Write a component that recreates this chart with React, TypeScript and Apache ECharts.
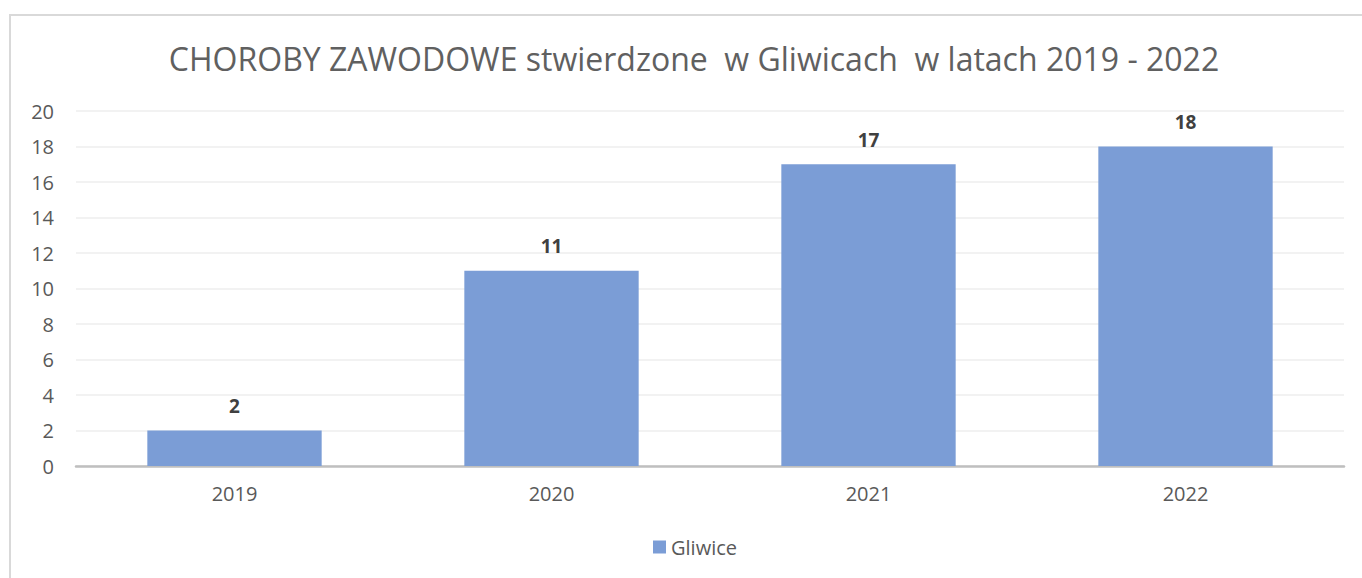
import React, { useEffect, useRef } from "react";
import * as echarts from "echarts";

const categories = ["2019", "2020", "2021", "2022"];
const gliwiceValues = [2, 11, 17, 18];
const seriesName = "Gliwice";
const titleText = "CHOROBY ZAWODOWE stwierdzone  w Gliwicach  w latach 2019 - 2022";

export default function App() {
  const ref = useRef<HTMLDivElement>(null);
  useEffect(() => {
    if (!ref.current) return;
    const chart = echarts.init(ref.current, null, { renderer: "svg" });
    const font = "'Open Sans', sans-serif";
    chart.setOption({
      animation: false,
      backgroundColor: "#ffffff",
      textStyle: { fontFamily: font },
      graphic: [
        {
          type: "rect",
          shape: { x: 10, y: 15, width: 1400, height: 620 },
          style: { fill: "none", stroke: "#d9d9d9", lineWidth: 2 },
          silent: true,
        },
      ],
      title: {
        text: titleText,
        left: 689,
        textAlign: "center",
        top: 37,
        textStyle: { fontFamily: font, fontSize: 32, fontWeight: "normal", color: "#606060" },
      },
      legend: {
        data: [seriesName],
        left: 648,
        top: 532,
        itemWidth: 13,
        itemHeight: 13,
        icon: "rect",
        itemGap: 6,
        textStyle: { fontFamily: font, fontSize: 20, color: "#595959" },
      },
      grid: { left: 76, right: 18, top: 111, bottom: 112, containLabel: false },
      xAxis: {
        type: "category",
        data: categories,
        axisLine: { lineStyle: { color: "#bfbfbf", width: 2.5 } },
        axisTick: { show: false },
        axisLabel: { fontFamily: font, fontSize: 20, color: "#595959", margin: 17 },
      },
      yAxis: {
        type: "value",
        min: 0,
        max: 20,
        interval: 2,
        axisLine: { show: false },
        axisTick: { show: false },
        splitLine: { lineStyle: { color: "#eeeeee", width: 1.5 } },
        axisLabel: { fontFamily: font, fontSize: 20, color: "#595959", margin: 22 },
      },
      series: [
        {
          name: seriesName,
          type: "bar",
          data: gliwiceValues,
          barWidth: "55%",
          itemStyle: { color: "#7b9dd6" },
          label: {
            show: true,
            position: "top",
            distance: 15,
            fontFamily: font,
            fontSize: 19,
            fontWeight: "bold",
            color: "#404040",
          },
        },
      ],
    });
    return () => chart.dispose();
  }, []);
  return (
    <div
      ref={ref}
      style={{ position: "absolute", left: 0, top: 0, width: 1362, height: 578 }}
    />
  );
}
